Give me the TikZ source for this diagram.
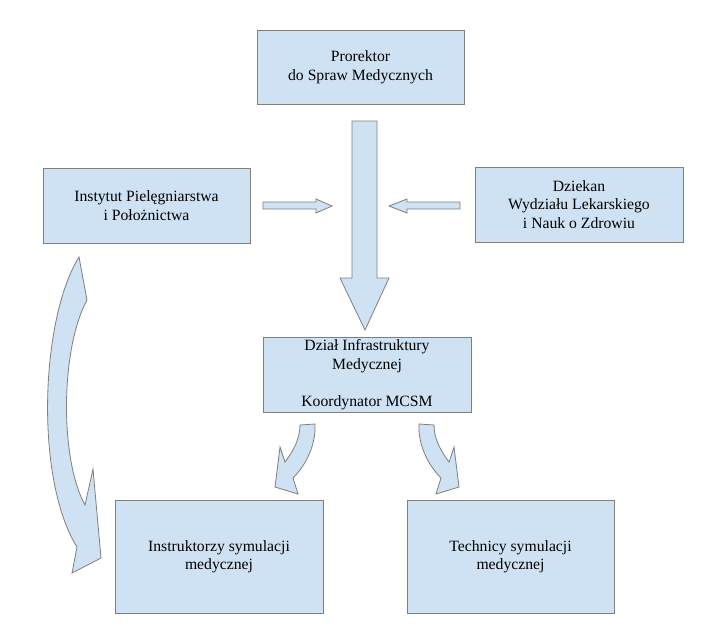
\documentclass[tikz,border=0pt]{standalone}
\usepackage{fontspec}
\setmainfont{Liberation Serif}
\definecolor{boxfill}{HTML}{CFE2F3}
\definecolor{boxline}{HTML}{7F7F7F}
\begin{document}
\begin{tikzpicture}[x=1pt,y=-1pt,
  box/.style={draw=boxline, fill=boxfill, line width=0.9pt, align=center,
    font=\fontsize{15.7}{18.5}\selectfont, inner sep=0pt},
  blk/.style={draw=boxline, fill=boxfill, line width=0.8pt, line join=miter}]
\useasboundingbox (0,0) rectangle (727,632);
\fill[white] (0,0) rectangle (727,632);

% boxes
\node[box, minimum width=207pt, minimum height=74pt] (pro) at (360.5,67) {Prorektor\\do Spraw Medycznych};
\node[box, minimum width=207pt, minimum height=75pt] (inst) at (146.5,205.5) {Instytut Pielęgniarstwa\\i Położnictwa};
\node[box, minimum width=208pt, minimum height=75pt] (dzie) at (579,204.5) {Dziekan\\Wydziału Lekarskiego\\i Nauk o Zdrowiu};
\node[box, minimum width=208pt, minimum height=75pt] (dzial) at (367,374.5) {Dział Infrastruktury\\Medycznej\\[18.5pt]Koordynator MCSM};
\node[box, minimum width=208pt, minimum height=113pt] (instr) at (219,556.5) {Instruktorzy symulacji\\medycznej};
\node[box, minimum width=207pt, minimum height=113pt] (tech) at (510.5,556.5) {Technicy symulacji\\medycznej};

% big down arrow
\path[blk] (352,121) -- (377,121) -- (377,278) -- (389,278) -- (365,330) -- (340,278) -- (352,278) -- cycle;
% small horizontal arrows
\path[blk] (263,202) -- (316,202) -- (316,199) -- (332,206) -- (316,213) -- (316,209) -- (263,209) -- cycle;
\path[blk] (460,202) -- (407,202) -- (407,199) -- (389,206) -- (407,213) -- (407,209) -- (460,209) -- cycle;
% big curved arrow
\path[blk] (79,257) .. controls (40,320) and (35,480) .. (77,547) -- (72,573) -- (101,558) -- (93,469) -- (85,505)
  .. controls (60,460) and (60,350) .. (87,300) -- cycle;
% small curved arrows
\path[blk] (300,425) -- (315,424) .. controls (316,445) and (306,465) .. (293,478) -- (298,494) -- (275,487)
  -- (280,447) -- (285,462) .. controls (294,450) and (300,438) .. (300,425) -- cycle;
\path[blk] (434,425) -- (419,424) .. controls (418,445) and (428,465) .. (441,478) -- (436,494) -- (459,487)
  -- (454,447) -- (449,462) .. controls (440,450) and (434,438) .. (434,425) -- cycle;
\end{tikzpicture}
\end{document}
